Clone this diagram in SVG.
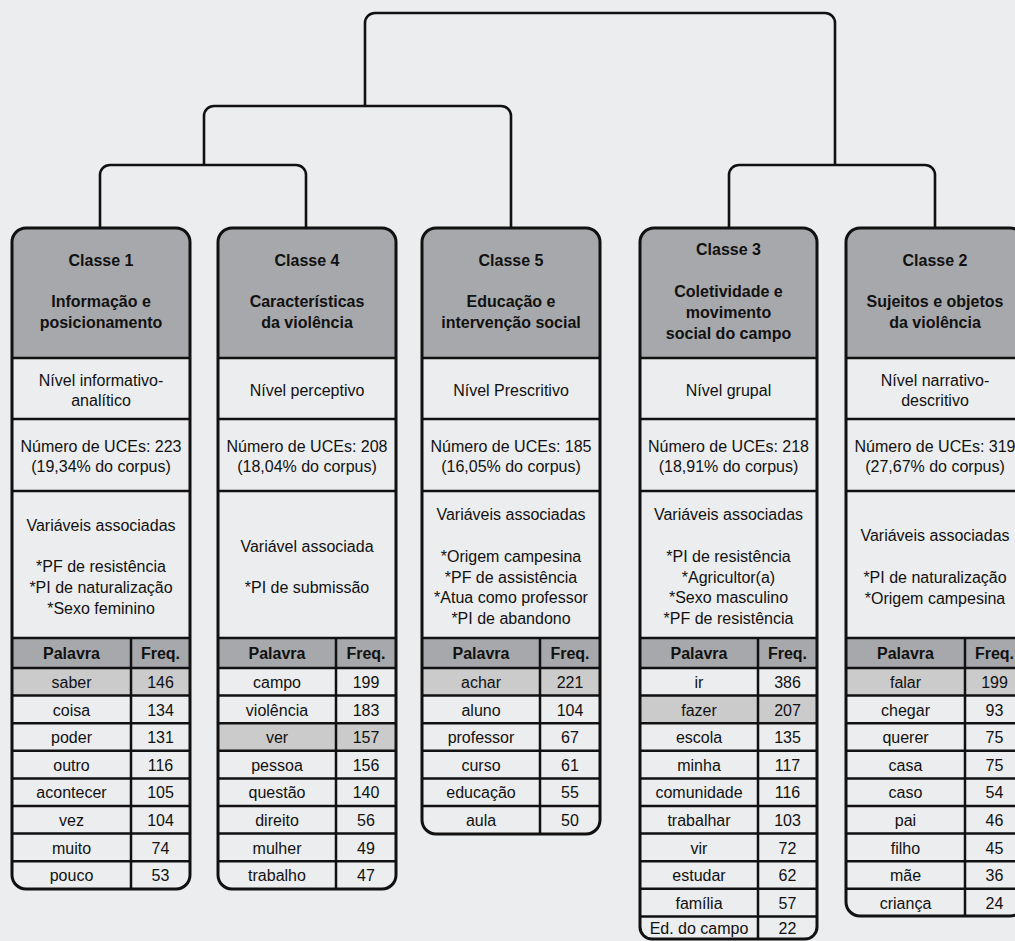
<svg xmlns="http://www.w3.org/2000/svg" width="1015" height="941" viewBox="0 0 1015 941">
<style>
text{font-family:"Liberation Sans",Arial,sans-serif;font-size:16px;fill:#111;text-anchor:middle}
.b{font-weight:bold}
.box{fill:none;stroke:#111;stroke-width:3}
.hd{fill:#a7a8ab}
.hl{fill:#cbcbcc}
.ln{stroke:#111;stroke-width:2.5;fill:none}
.con{stroke:#111;stroke-width:2.6;fill:none}
</style>
<rect x="0" y="0" width="1015" height="941" fill="#ecedef"/>
<g id="connectors">
<path class="con" d="M365,106 V23 A10 10 0 0 1 375,13 H825 A10 10 0 0 1 835,23 V165"/>
<path class="con" d="M204,165 V116 A10 10 0 0 1 214,106 H501 A10 10 0 0 1 511,116 V228"/>
<path class="con" d="M100,228 V175 A10 10 0 0 1 110,165 H296 A10 10 0 0 1 306,175 V228"/>
<path class="con" d="M729,228 V175 A10 10 0 0 1 739,165 H925 A10 10 0 0 1 935,175 V228"/>
</g>

<g id="classe1">
<path class="hd" d="M12,358 V242 A14 14 0 0 1 26,228 H176 A14 14 0 0 1 190,242 V358 Z"/>
<rect class="hd" x="12" y="638" width="178" height="30"/>
<rect class="hl" x="12" y="668" width="178" height="27.6"/>
<path class="ln" d="M12,358 H190 M12,419 H190 M12,491 H190 M12,638 H190 M12,668 H190 M12,695.6 H190 M12,723.2 H190 M12,750.8 H190 M12,778.4 H190 M12,806 H190 M12,833.6 H190 M12,861.2 H190 M131,638 V889"/>
<path class="box" d="M12,242 A14 14 0 0 1 26,228 H176 A14 14 0 0 1 190,242 V875 A14 14 0 0 1 176,889 H26 A14 14 0 0 1 12,875 Z"/>
<text class="b" x="101" y="266">Classe 1</text>
<text class="b" x="101" y="307">Informação e</text>
<text class="b" x="101" y="328">posicionamento</text>
<text x="101" y="386">Nível informativo-</text>
<text x="101" y="406">analítico</text>
<text x="101" y="452">Número de UCEs: 223</text>
<text x="101" y="472">(19,34% do corpus)</text>
<text x="101" y="531">Variáveis associadas</text>
<text x="101" y="572">*PF de resistência</text>
<text x="101" y="593">*PI de naturalização</text>
<text x="101" y="614">*Sexo feminino</text>
<text class="b" x="71.5" y="659">Palavra</text>
<text class="b" x="160.5" y="659">Freq.</text>
<text x="71.5" y="688">saber</text><text x="160.5" y="688">146</text>
<text x="71.5" y="715.6">coisa</text><text x="160.5" y="715.6">134</text>
<text x="71.5" y="743.2">poder</text><text x="160.5" y="743.2">131</text>
<text x="71.5" y="770.8">outro</text><text x="160.5" y="770.8">116</text>
<text x="71.5" y="798.4">acontecer</text><text x="160.5" y="798.4">105</text>
<text x="71.5" y="826">vez</text><text x="160.5" y="826">104</text>
<text x="71.5" y="853.6">muito</text><text x="160.5" y="853.6">74</text>
<text x="71.5" y="881.2">pouco</text><text x="160.5" y="881.2">53</text>
</g>

<g id="classe4">
<path class="hd" d="M218,358 V242 A14 14 0 0 1 232,228 H382 A14 14 0 0 1 396,242 V358 Z"/>
<rect class="hd" x="218" y="638" width="178" height="30"/>
<rect class="hl" x="218" y="723.2" width="178" height="27.6"/>
<path class="ln" d="M218,358 H396 M218,419 H396 M218,491 H396 M218,638 H396 M218,668 H396 M218,695.6 H396 M218,723.2 H396 M218,750.8 H396 M218,778.4 H396 M218,806 H396 M218,833.6 H396 M218,861.2 H396 M336,638 V889"/>
<path class="box" d="M218,242 A14 14 0 0 1 232,228 H382 A14 14 0 0 1 396,242 V875 A14 14 0 0 1 382,889 H232 A14 14 0 0 1 218,875 Z"/>
<text class="b" x="307" y="266">Classe 4</text>
<text class="b" x="307" y="307">Características</text>
<text class="b" x="307" y="328">da violência</text>
<text x="307" y="396">Nível perceptivo</text>
<text x="307" y="452">Número de UCEs: 208</text>
<text x="307" y="472">(18,04% do corpus)</text>
<text x="307" y="552">Variável associada</text>
<text x="307" y="593">*PI de submissão</text>
<text class="b" x="277" y="659">Palavra</text>
<text class="b" x="366" y="659">Freq.</text>
<text x="277" y="688">campo</text><text x="366" y="688">199</text>
<text x="277" y="715.6">violência</text><text x="366" y="715.6">183</text>
<text x="277" y="743.2">ver</text><text x="366" y="743.2">157</text>
<text x="277" y="770.8">pessoa</text><text x="366" y="770.8">156</text>
<text x="277" y="798.4">questão</text><text x="366" y="798.4">140</text>
<text x="277" y="826">direito</text><text x="366" y="826">56</text>
<text x="277" y="853.6">mulher</text><text x="366" y="853.6">49</text>
<text x="277" y="881.2">trabalho</text><text x="366" y="881.2">47</text>
</g>

<g id="classe5">
<path class="hd" d="M422,358 V242 A14 14 0 0 1 436,228 H586 A14 14 0 0 1 600,242 V358 Z"/>
<rect class="hd" x="422" y="638" width="178" height="30"/>
<rect class="hl" x="422" y="668" width="178" height="27.6"/>
<path class="ln" d="M422,358 H600 M422,419 H600 M422,491 H600 M422,638 H600 M422,668 H600 M422,695.6 H600 M422,723.2 H600 M422,750.8 H600 M422,778.4 H600 M422,806 H600 M540,638 V834"/>
<path class="box" d="M422,242 A14 14 0 0 1 436,228 H586 A14 14 0 0 1 600,242 V820 A14 14 0 0 1 586,834 H436 A14 14 0 0 1 422,820 Z"/>
<text class="b" x="511" y="266">Classe 5</text>
<text class="b" x="511" y="307">Educação e</text>
<text class="b" x="511" y="328">intervenção social</text>
<text x="511" y="396">Nível Prescritivo</text>
<text x="511" y="452">Número de UCEs: 185</text>
<text x="511" y="472">(16,05% do corpus)</text>
<text x="511" y="520">Variáveis associadas</text>
<text x="511" y="562">*Origem campesina</text>
<text x="511" y="583">*PF de assistência</text>
<text x="511" y="603">*Atua como professor</text>
<text x="511" y="624">*PI de abandono</text>
<text class="b" x="481" y="659">Palavra</text>
<text class="b" x="570" y="659">Freq.</text>
<text x="481" y="688">achar</text><text x="570" y="688">221</text>
<text x="481" y="715.6">aluno</text><text x="570" y="715.6">104</text>
<text x="481" y="743.2">professor</text><text x="570" y="743.2">67</text>
<text x="481" y="770.8">curso</text><text x="570" y="770.8">61</text>
<text x="481" y="798.4">educação</text><text x="570" y="798.4">55</text>
<text x="481" y="826">aula</text><text x="570" y="826">50</text>
</g>

<g id="classe3">
<path class="hd" d="M640,358 V242 A14 14 0 0 1 654,228 H803 A14 14 0 0 1 817,242 V358 Z"/>
<rect class="hd" x="640" y="638" width="177" height="30"/>
<rect class="hl" x="640" y="695.6" width="177" height="27.6"/>
<path class="ln" d="M640,358 H817 M640,419 H817 M640,491 H817 M640,638 H817 M640,668 H817 M640,695.6 H817 M640,723.2 H817 M640,750.8 H817 M640,778.4 H817 M640,806 H817 M640,833.6 H817 M640,861.2 H817 M640,888.8 H817 M640,916.4 H817 M758,638 V939"/>
<path class="box" d="M640,242 A14 14 0 0 1 654,228 H803 A14 14 0 0 1 817,242 V927 A12 12 0 0 1 805,939 H652 A12 12 0 0 1 640,927 Z"/>
<text class="b" x="728.5" y="255">Classe 3</text>
<text class="b" x="728.5" y="297">Coletividade e</text>
<text class="b" x="728.5" y="318">movimento</text>
<text class="b" x="728.5" y="339">social do campo</text>
<text x="728.5" y="396">Nível grupal</text>
<text x="728.5" y="452">Número de UCEs: 218</text>
<text x="728.5" y="472">(18,91% do corpus)</text>
<text x="728.5" y="520">Variáveis associadas</text>
<text x="728.5" y="562">*PI de resistência</text>
<text x="728.5" y="583">*Agricultor(a)</text>
<text x="728.5" y="603">*Sexo masculino</text>
<text x="728.5" y="624">*PF de resistência</text>
<text class="b" x="699" y="659">Palavra</text>
<text class="b" x="787.5" y="659">Freq.</text>
<text x="699" y="688">ir</text><text x="787.5" y="688">386</text>
<text x="699" y="715.6">fazer</text><text x="787.5" y="715.6">207</text>
<text x="699" y="743.2">escola</text><text x="787.5" y="743.2">135</text>
<text x="699" y="770.8">minha</text><text x="787.5" y="770.8">117</text>
<text x="699" y="798.4">comunidade</text><text x="787.5" y="798.4">116</text>
<text x="699" y="826">trabalhar</text><text x="787.5" y="826">103</text>
<text x="699" y="853.6">vir</text><text x="787.5" y="853.6">72</text>
<text x="699" y="881.2">estudar</text><text x="787.5" y="881.2">62</text>
<text x="699" y="908.8">família</text><text x="787.5" y="908.8">57</text>
<text x="699" y="934">Ed. do campo</text><text x="787.5" y="934">22</text>
</g>

<g id="classe2">
<path class="hd" d="M846,358 V242 A14 14 0 0 1 860,228 H1010 A14 14 0 0 1 1024,242 V358 Z"/>
<rect class="hd" x="846" y="638" width="178" height="30"/>
<rect class="hl" x="846" y="668" width="178" height="27.6"/>
<path class="ln" d="M846,358 H1024 M846,419 H1024 M846,491 H1024 M846,638 H1024 M846,668 H1024 M846,695.6 H1024 M846,723.2 H1024 M846,750.8 H1024 M846,778.4 H1024 M846,806 H1024 M846,833.6 H1024 M846,861.2 H1024 M846,888.8 H1024 M965,638 V916"/>
<path class="box" d="M846,242 A14 14 0 0 1 860,228 H1010 A14 14 0 0 1 1024,242 V902 A14 14 0 0 1 1010,916 H860 A14 14 0 0 1 846,902 Z"/>
<text class="b" x="935" y="266">Classe 2</text>
<text class="b" x="935" y="307">Sujeitos e objetos</text>
<text class="b" x="935" y="328">da violência</text>
<text x="935" y="386">Nível narrativo-</text>
<text x="935" y="406">descritivo</text>
<text x="935" y="452">Número de UCEs: 319</text>
<text x="935" y="472">(27,67% do corpus)</text>
<text x="935" y="541">Variáveis associadas</text>
<text x="935" y="583">*PI de naturalização</text>
<text x="935" y="604">*Origem campesina</text>
<text class="b" x="905.5" y="659">Palavra</text>
<text class="b" x="994.5" y="659">Freq.</text>
<text x="905.5" y="688">falar</text><text x="994.5" y="688">199</text>
<text x="905.5" y="715.6">chegar</text><text x="994.5" y="715.6">93</text>
<text x="905.5" y="743.2">querer</text><text x="994.5" y="743.2">75</text>
<text x="905.5" y="770.8">casa</text><text x="994.5" y="770.8">75</text>
<text x="905.5" y="798.4">caso</text><text x="994.5" y="798.4">54</text>
<text x="905.5" y="826">pai</text><text x="994.5" y="826">46</text>
<text x="905.5" y="853.6">filho</text><text x="994.5" y="853.6">45</text>
<text x="905.5" y="881.2">mãe</text><text x="994.5" y="881.2">36</text>
<text x="905.5" y="908.8">criança</text><text x="994.5" y="908.8">24</text>
</g>
</svg>
